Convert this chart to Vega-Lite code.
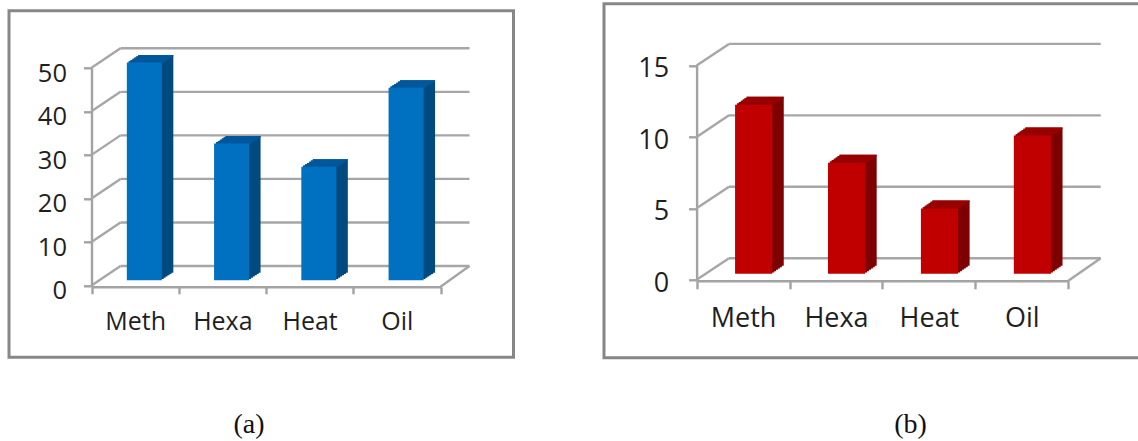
{"$schema":"https://vega.github.io/schema/vega-lite/v6.json","background":"white","padding":{"left":7,"top":1.8,"right":0,"bottom":0},"spacing":87,"config":{"font":"Open Sans","axis":{"domainColor":"#a3a3a3","domainWidth":2.4,"tickColor":"#a3a3a3","tickWidth":2.4,"labelColor":"#1f1f1f","labelFont":"Open Sans","grid":false}},
"datasets":{"biogas":[{"category":"Meth","value":50},{"category":"Hexa","value":31.4},{"category":"Heat","value":26.1},{"category":"Oil","value":44.2}],"ticksA":[{"tick":0},{"tick":10},{"tick":20},{"tick":30},{"tick":40},{"tick":50}],"yieldB":[{"category":"Meth","value":11.83},{"category":"Hexa","value":7.77},{"category":"Heat","value":4.57},{"category":"Oil","value":9.68}],"ticksB":[{"tick":0},{"tick":5},{"tick":10},{"tick":15}]},
"hconcat":[
{"spacing":4,"vconcat":[
{"width":504.5,"height":1,"view":{"stroke":null},"mark":{"type":"rule","opacity":0},"encoding":{}},
{"width":504.5,"height":346.5,"view":{"stroke":"#878787","strokeWidth":3,"fill":"white"},
"resolve":{"axis":{"x":"independent","y":"independent"}},
"layer":[
{"data":{"name":"ticksA"},"mark":{"type":"rule","color":"#a6a6a6","strokeWidth":2.4,"xOffset":29,"x2Offset":29,"yOffset":-19.5,"y2Offset":-19.5},"encoding":{"x":{"datum":"Meth","type":"nominal","bandPosition":0,"axis":null},"x2":{"datum":"Oil","bandPosition":1},"y":{"field":"tick","type":"quantitative","axis":null},"y2":{"field":"tick"}}},
{"data":{"name":"ticksA"},"mark":{"type":"rule","color":"#a6a6a6","strokeWidth":2.4,"x2Offset":29,"y2Offset":-19.5},"encoding":{"x":{"datum":"Meth","type":"nominal","bandPosition":0,"axis":null},"x2":{"datum":"Meth","bandPosition":0},"y":{"field":"tick","type":"quantitative","axis":null},"y2":{"field":"tick"}}},
{"data":{"name":"ticksA"},"transform":[{"filter":"datum.tick === 0"}],"mark":{"type":"rule","color":"#a6a6a6","strokeWidth":2.4,"yOffset":1.3,"x2Offset":29,"y2Offset":-19.5},"encoding":{"x":{"datum":"Oil","type":"nominal","bandPosition":1,"axis":null},"x2":{"datum":"Oil","bandPosition":1},"y":{"field":"tick","type":"quantitative","axis":null},"y2":{"field":"tick"}}},
{"data":{"name":"biogas"},"resolve":{"axis":{"x":"independent","y":"independent"}},"layer":[
{"mark":{"type":"bar","width":35,"color":"#004a7f","xOffset":11.1,"yOffset":-6.45,"y2Offset":-6.45},"encoding":{"x":{"field":"category","type":"nominal","sort":null,"axis":null},"y":{"field":"value","type":"quantitative","axis":null},"y2":{"datum":0}}},
{"mark":{"type":"bar","width":35,"color":"#004a7f","xOffset":13,"yOffset":-7.7,"y2Offset":-7.7},"encoding":{"x":{"field":"category","type":"nominal","sort":null,"axis":null},"y":{"field":"value","type":"quantitative","axis":null},"y2":{"datum":0}}},
{"mark":{"type":"bar","width":35,"color":"#004a7f","xOffset":14.9,"yOffset":-8.95,"y2Offset":-8.95},"encoding":{"x":{"field":"category","type":"nominal","sort":null,"axis":null},"y":{"field":"value","type":"quantitative","axis":null},"y2":{"datum":0}}},
{"mark":{"type":"bar","width":35,"color":"#004a7f","xOffset":16.9,"yOffset":-10.2,"y2Offset":-10.2},"encoding":{"x":{"field":"category","type":"nominal","sort":null,"axis":null},"y":{"field":"value","type":"quantitative","axis":null},"y2":{"datum":0}}},
{"mark":{"type":"bar","width":35,"color":"#004a7f","xOffset":18.8,"yOffset":-11.45,"y2Offset":-11.45},"encoding":{"x":{"field":"category","type":"nominal","sort":null,"axis":null},"y":{"field":"value","type":"quantitative","axis":null},"y2":{"datum":0}}},
{"mark":{"type":"bar","width":35,"color":"#004a7f","xOffset":20.7,"yOffset":-12.7,"y2Offset":-12.7},"encoding":{"x":{"field":"category","type":"nominal","sort":null,"axis":null},"y":{"field":"value","type":"quantitative","axis":null},"y2":{"datum":0}}},
{"mark":{"type":"bar","width":35,"color":"#00589c","xOffset":11.1,"yOffset":-6.45,"y2Offset":-4.9},"encoding":{"x":{"field":"category","type":"nominal","sort":null,"axis":null},"y":{"field":"value","type":"quantitative","axis":null},"y2":{"field":"value"}}},
{"mark":{"type":"bar","width":35,"color":"#00589c","xOffset":13,"yOffset":-7.7,"y2Offset":-6.2},"encoding":{"x":{"field":"category","type":"nominal","sort":null,"axis":null},"y":{"field":"value","type":"quantitative","axis":null},"y2":{"field":"value"}}},
{"mark":{"type":"bar","width":35,"color":"#00589c","xOffset":14.9,"yOffset":-8.95,"y2Offset":-7.45},"encoding":{"x":{"field":"category","type":"nominal","sort":null,"axis":null},"y":{"field":"value","type":"quantitative","axis":null},"y2":{"field":"value"}}},
{"mark":{"type":"bar","width":35,"color":"#00589c","xOffset":16.9,"yOffset":-10.2,"y2Offset":-8.7},"encoding":{"x":{"field":"category","type":"nominal","sort":null,"axis":null},"y":{"field":"value","type":"quantitative","axis":null},"y2":{"field":"value"}}},
{"mark":{"type":"bar","width":35,"color":"#00589c","xOffset":18.8,"yOffset":-11.45,"y2Offset":-9.95},"encoding":{"x":{"field":"category","type":"nominal","sort":null,"axis":null},"y":{"field":"value","type":"quantitative","axis":null},"y2":{"field":"value"}}},
{"mark":{"type":"bar","width":35,"color":"#00589c","xOffset":20.7,"yOffset":-12.7,"y2Offset":-11.2},"encoding":{"x":{"field":"category","type":"nominal","sort":null,"axis":null},"y":{"field":"value","type":"quantitative","axis":null},"y2":{"field":"value"}}},
{"mark":{"type":"bar","width":35,"color":"#0070c0","xOffset":9.2,"yOffset":-5.2,"y2Offset":-5.2},"encoding":{
"x":{"field":"category","type":"nominal","sort":null,"title":"(a)","scale":{"domain":["Meth","Hexa","Heat","Oil"],"range":[82.5,431.5],"paddingInner":0,"paddingOuter":0},"axis":{"orient":"bottom","offset":-70.5,"tickBand":"extent","tickSize":7,"labelAngle":0,"labelFontSize":25,"labelPadding":16,"titleFont":"Liberation Serif","titleFontSize":28,"titleFontWeight":"normal","titleColor":"#111111","titleX":239.5,"titleY":145.5,"titleAlign":"center","titleBaseline":"alphabetic"}},
"y":{"field":"value","type":"quantitative","scale":{"domain":[0,50],"range":[274.7,57],"nice":false},"axis":{"orient":"left","offset":-82.5,"values":[0,10,20,30,40,50],"tickSize":8,"labelFontSize":25.5,"labelPadding":17,"labelOffset":5.5,"title":null}},
"y2":{"datum":0}}}
]}
]}
]},
{"width":540,"height":354,"view":{"stroke":"#878787","strokeWidth":3,"fill":"white"},
"resolve":{"axis":{"x":"independent","y":"independent"}},
"layer":[
{"data":{"name":"ticksB"},"mark":{"type":"rule","color":"#a6a6a6","strokeWidth":2.4,"xOffset":32.4,"x2Offset":32.4,"yOffset":-21.6,"y2Offset":-21.6},"encoding":{"x":{"datum":"Meth","type":"nominal","bandPosition":0,"axis":null},"x2":{"datum":"Oil","bandPosition":1},"y":{"field":"tick","type":"quantitative","axis":null},"y2":{"field":"tick"}}},
{"data":{"name":"ticksB"},"mark":{"type":"rule","color":"#a6a6a6","strokeWidth":2.4,"x2Offset":32.4,"y2Offset":-21.6},"encoding":{"x":{"datum":"Meth","type":"nominal","bandPosition":0,"axis":null},"x2":{"datum":"Meth","bandPosition":0},"y":{"field":"tick","type":"quantitative","axis":null},"y2":{"field":"tick"}}},
{"data":{"name":"ticksB"},"transform":[{"filter":"datum.tick === 0"}],"mark":{"type":"rule","color":"#a6a6a6","strokeWidth":2.4,"yOffset":1,"x2Offset":32.4,"y2Offset":-21.6},"encoding":{"x":{"datum":"Oil","type":"nominal","bandPosition":1,"axis":null},"x2":{"datum":"Oil","bandPosition":1},"y":{"field":"tick","type":"quantitative","axis":null},"y2":{"field":"tick"}}},
{"data":{"name":"yieldB"},"resolve":{"axis":{"x":"independent","y":"independent"}},"layer":[
{"mark":{"type":"bar","width":37.2,"color":"#7f0000","xOffset":12.5,"yOffset":-7.33,"y2Offset":-7.33},"encoding":{"x":{"field":"category","type":"nominal","sort":null,"axis":null},"y":{"field":"value","type":"quantitative","axis":null},"y2":{"datum":0}}},
{"mark":{"type":"bar","width":37.2,"color":"#7f0000","xOffset":14.4,"yOffset":-8.67,"y2Offset":-8.67},"encoding":{"x":{"field":"category","type":"nominal","sort":null,"axis":null},"y":{"field":"value","type":"quantitative","axis":null},"y2":{"datum":0}}},
{"mark":{"type":"bar","width":37.2,"color":"#7f0000","xOffset":16.4,"yOffset":-10,"y2Offset":-10},"encoding":{"x":{"field":"category","type":"nominal","sort":null,"axis":null},"y":{"field":"value","type":"quantitative","axis":null},"y2":{"datum":0}}},
{"mark":{"type":"bar","width":37.2,"color":"#7f0000","xOffset":18.3,"yOffset":-11.33,"y2Offset":-11.33},"encoding":{"x":{"field":"category","type":"nominal","sort":null,"axis":null},"y":{"field":"value","type":"quantitative","axis":null},"y2":{"datum":0}}},
{"mark":{"type":"bar","width":37.2,"color":"#7f0000","xOffset":20.2,"yOffset":-12.67,"y2Offset":-12.67},"encoding":{"x":{"field":"category","type":"nominal","sort":null,"axis":null},"y":{"field":"value","type":"quantitative","axis":null},"y2":{"datum":0}}},
{"mark":{"type":"bar","width":37.2,"color":"#7f0000","xOffset":22.1,"yOffset":-14,"y2Offset":-14},"encoding":{"x":{"field":"category","type":"nominal","sort":null,"axis":null},"y":{"field":"value","type":"quantitative","axis":null},"y2":{"datum":0}}},
{"mark":{"type":"bar","width":37.2,"color":"#990000","xOffset":12.5,"yOffset":-7.33,"y2Offset":-5.8},"encoding":{"x":{"field":"category","type":"nominal","sort":null,"axis":null},"y":{"field":"value","type":"quantitative","axis":null},"y2":{"field":"value"}}},
{"mark":{"type":"bar","width":37.2,"color":"#990000","xOffset":14.4,"yOffset":-8.67,"y2Offset":-7.1},"encoding":{"x":{"field":"category","type":"nominal","sort":null,"axis":null},"y":{"field":"value","type":"quantitative","axis":null},"y2":{"field":"value"}}},
{"mark":{"type":"bar","width":37.2,"color":"#990000","xOffset":16.4,"yOffset":-10,"y2Offset":-8.5},"encoding":{"x":{"field":"category","type":"nominal","sort":null,"axis":null},"y":{"field":"value","type":"quantitative","axis":null},"y2":{"field":"value"}}},
{"mark":{"type":"bar","width":37.2,"color":"#990000","xOffset":18.3,"yOffset":-11.33,"y2Offset":-9.8},"encoding":{"x":{"field":"category","type":"nominal","sort":null,"axis":null},"y":{"field":"value","type":"quantitative","axis":null},"y2":{"field":"value"}}},
{"mark":{"type":"bar","width":37.2,"color":"#990000","xOffset":20.2,"yOffset":-12.67,"y2Offset":-11.1},"encoding":{"x":{"field":"category","type":"nominal","sort":null,"axis":null},"y":{"field":"value","type":"quantitative","axis":null},"y2":{"field":"value"}}},
{"mark":{"type":"bar","width":37.2,"color":"#990000","xOffset":22.1,"yOffset":-14,"y2Offset":-12.5},"encoding":{"x":{"field":"category","type":"nominal","sort":null,"axis":null},"y":{"field":"value","type":"quantitative","axis":null},"y2":{"field":"value"}}},
{"mark":{"type":"bar","width":37.2,"color":"#c00000","xOffset":10.6,"yOffset":-6,"y2Offset":-6},"encoding":{
"x":{"field":"category","type":"nominal","sort":null,"title":"(b)","scale":{"domain":["Meth","Hexa","Heat","Oil"],"range":[92.6,464.3],"paddingInner":0,"paddingOuter":0},"axis":{"orient":"bottom","offset":-77,"tickBand":"extent","tickSize":8,"labelAngle":0,"labelFontSize":27,"labelPadding":16.5,"titleFont":"Liberation Serif","titleFontSize":28,"titleFontWeight":"normal","titleColor":"#111111","titleX":306,"titleY":151.5,"titleAlign":"center","titleBaseline":"alphabetic"}},
"y":{"field":"value","type":"quantitative","scale":{"domain":[0,15],"range":[276,61.7],"nice":false},"axis":{"orient":"left","offset":-92.6,"values":[0,5,10,15],"tickSize":8,"labelFontSize":27,"labelPadding":20,"labelOffset":3.5,"title":null}},
"y2":{"datum":0}}}
]}
]}
]}
